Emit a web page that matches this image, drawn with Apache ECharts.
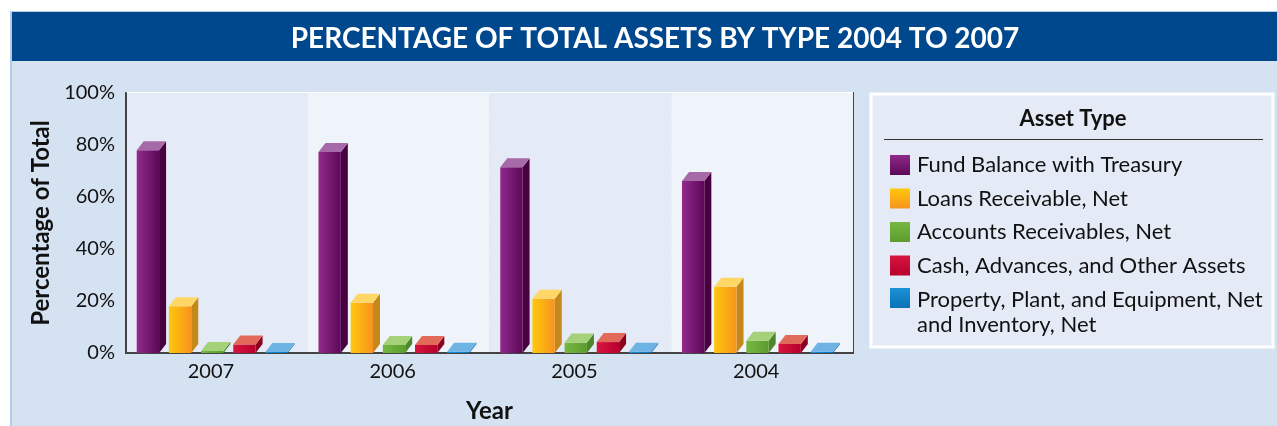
<!DOCTYPE html>
<html>
<head>
<meta charset="utf-8">
<script src="https://cdn.jsdelivr.net/npm/echarts@6/dist/echarts.min.js"></script>
<style>
  html, body { margin: 0; padding: 0; background: #fff; }
  #main { width: 1277px; height: 426px; }
</style>
</head>
<body>
<div id="main"></div>
<script>
// categories and values (percent of total)
var years = ['2007', '2006', '2005', '2004'];
var assetTypes = [
    'Fund Balance with Treasury',
    'Loans Receivable, Net',
    'Accounts Receivables, Net',
    'Cash, Advances, and Other Assets',
    'Property, Plant, and Equipment, Net\nand Inventory, Net'
];
var fundBalance = [78, 77.3, 71.4, 66.2];
var loansReceivable = [18, 19.3, 20.9, 25.5];
var accountsReceivable = [0.8, 3.1, 4, 4.7];
var cashAdvances = [3.3, 3.1, 4.2, 3.5];
var propertyInventory = [0.4, 0.5, 0.5, 0.5];
var yTicks = [0, 20, 40, 60, 80, 100];

var seriesValues = [fundBalance, loansReceivable, accountsReceivable, cashAdvances, propertyInventory];

// front (left->right), top, side
var palette = [
    { front: ['#922a8c', '#5c0858'], top: '#a76aa9', side: '#48003f' },
    { front: ['#ffc80c', '#f7931e'], top: '#ffd767', side: '#c4891a' },
    { front: ['#76b842', '#5c9c30'], top: '#a5d179', side: '#4d872b' },
    { front: ['#d8163f', '#b8002e'], top: '#e26a58', side: '#8c0020' },
    { front: ['#1b92d6', '#0a72b5'], top: '#6db3e4', side: '#0a5e98' }
];

var FONT = 'Lato';

var renderBar = function (params, api) {
    var i = params.seriesIndex;
    var cat = api.value(0);
    var base = api.coord([cat, 0]);
    var top = api.coord([cat, api.value(1)]);
    var band = api.size([1, 0])[0];
    var w = band * 0.123;
    var dx = band * 0.0385;
    var dy = 9;
    var x0 = base[0] - band / 2 + band * 0.059 + i * band * 0.177;
    var y0 = base[1], y1 = top[1];
    var c = palette[i];
    return {
        type: 'group',
        children: [
            {
                type: 'polygon',
                shape: { points: [[x0 + w, y1], [x0 + w + dx, y1 - dy], [x0 + w + dx, y0 - dy], [x0 + w, y0]] },
                style: { fill: c.side }
            },
            {
                type: 'rect',
                shape: { x: x0, y: y1, width: w, height: Math.max(y0 - y1, 0) },
                style: {
                    fill: new echarts.graphic.LinearGradient(0, 0, 1, 0, [
                        { offset: 0, color: c.front[0] },
                        { offset: 1, color: c.front[1] }
                    ])
                }
            },
            {
                type: 'polygon',
                shape: { points: [[x0, y1], [x0 + w, y1], [x0 + w + dx, y1 - dy], [x0 + dx, y1 - dy]] },
                style: { fill: c.top }
            }
        ]
    };
};

var chartShow = function () {
    var myChart = echarts.init(document.getElementById('main'));
    var last = assetTypes.length - 1;
    var legendText = { fontFamily: FONT, fontSize: 22, color: '#111', lineHeight: 25, padding: [0, 0, 0, 2] };

    var option = {
        backgroundColor: '#ffffff',
        animation: false,
        title: {
            text: 'PERCENTAGE OF TOTAL ASSETS BY TYPE 2004 TO 2007',
            left: 650,
            top: 34,
            textAlign: 'center',
            textVerticalAlign: 'middle',
            textStyle: { color: '#ffffff', fontFamily: FONT, fontWeight: 'bold', fontSize: 28 }
        },
        graphic: [
            { type: 'rect', z: -10, shape: { x: 10, y: 11, width: 1267, height: 415 }, style: { fill: '#b3cbe8' } },
            { type: 'rect', z: -9, shape: { x: 12, y: 12, width: 1265, height: 414 }, style: { fill: '#d5e2f2' } },
            { type: 'rect', z: -8, shape: { x: 12, y: 12, width: 1265, height: 49 }, style: { fill: '#00488e' } },
            { type: 'rect', z: -7, shape: { x: 871, y: 94, width: 402, height: 253 }, style: { fill: '#e5ebf6', stroke: '#ffffff', lineWidth: 3 } },
            {
                type: 'text', z: -6, x: 1073, y: 119,
                style: { text: 'Asset Type', fill: '#111', font: 'bold 22px ' + FONT, textAlign: 'center', textVerticalAlign: 'middle' }
            },
            { type: 'line', z: -6, shape: { x1: 884, y1: 139.5, x2: 1263, y2: 139.5 }, style: { stroke: '#333', lineWidth: 1 } }
        ],
        legend: [
            {
                orient: 'vertical',
                left: 885,
                top: 147.5,
                icon: 'rect',
                itemWidth: 20,
                itemHeight: 20,
                itemGap: 8.5,
                selectedMode: false,
                data: assetTypes.slice(0, last),
                textStyle: legendText
            },
            {
                // two-line entry: tall icon box whose square sits at the top
                orient: 'vertical',
                left: 885,
                top: 282,
                icon: 'path://M0,0h20v20h-20z M0,48h0.01',
                itemWidth: 20,
                itemHeight: 48,
                selectedMode: false,
                data: [assetTypes[last]],
                textStyle: legendText
            }
        ],
        grid: {
            left: 126,
            right: 424,
            top: 93,
            bottom: 73,
            outerBoundsMode: 'none',
            show: true,
            borderColor: '#444',
            borderWidth: 2,
            backgroundColor: 'transparent'
        },
        xAxis: {
            type: 'category',
            data: years,
            name: 'Year',
            nameLocation: 'middle',
            nameGap: 46,
            nameTextStyle: { fontFamily: FONT, fontWeight: 'bold', fontSize: 24, color: '#111' },
            axisLine: { lineStyle: { color: '#444', width: 2 } },
            axisTick: { show: false },
            axisLabel: { fontFamily: FONT, fontSize: 20, color: '#111', margin: 9, padding: [0, 12, 0, 0] },
            splitArea: { show: true, areaStyle: { color: ['#e4eaf6', '#eff3fa'] } }
        },
        yAxis: {
            type: 'value',
            min: 0,
            max: 100,
            interval: 10,
            name: 'Percentage of Total',
            nameLocation: 'middle',
            nameGap: 73,
            nameTextStyle: { fontFamily: FONT, fontWeight: 'bold', fontSize: 24, color: '#111' },
            axisLine: { show: true, lineStyle: { color: '#444', width: 2 } },
            axisTick: { show: false },
            axisLabel: {
                fontFamily: FONT, fontSize: 20, color: '#111', margin: 11,
                formatter: function (v) { return yTicks.indexOf(v) >= 0 ? v + '%' : ''; }
            },
            splitLine: { lineStyle: { color: '#ffffff', width: 2 } }
        },
        series: function () {
            var serie = [];
            for (var i = 0; i < assetTypes.length; i++) {
                var data = [];
                for (var j = 0; j < years.length; j++) {
                    data.push([j, seriesValues[i][j]]);
                }
                serie.push({
                    name: assetTypes[i],
                    type: 'custom',
                    renderItem: renderBar,
                    encode: { x: 0, y: 1 },
                    clip: false,
                    itemStyle: {
                        color: new echarts.graphic.LinearGradient(0, 0, 0, i == last ? 0.42 : 1, [
                            { offset: 0, color: palette[i].front[0] },
                            { offset: 1, color: palette[i].front[1] }
                        ])
                    },
                    data: data
                });
            }
            return serie;
        }()
    };
    myChart.setOption(option);
};

chartShow();
</script>
</body>
</html>
